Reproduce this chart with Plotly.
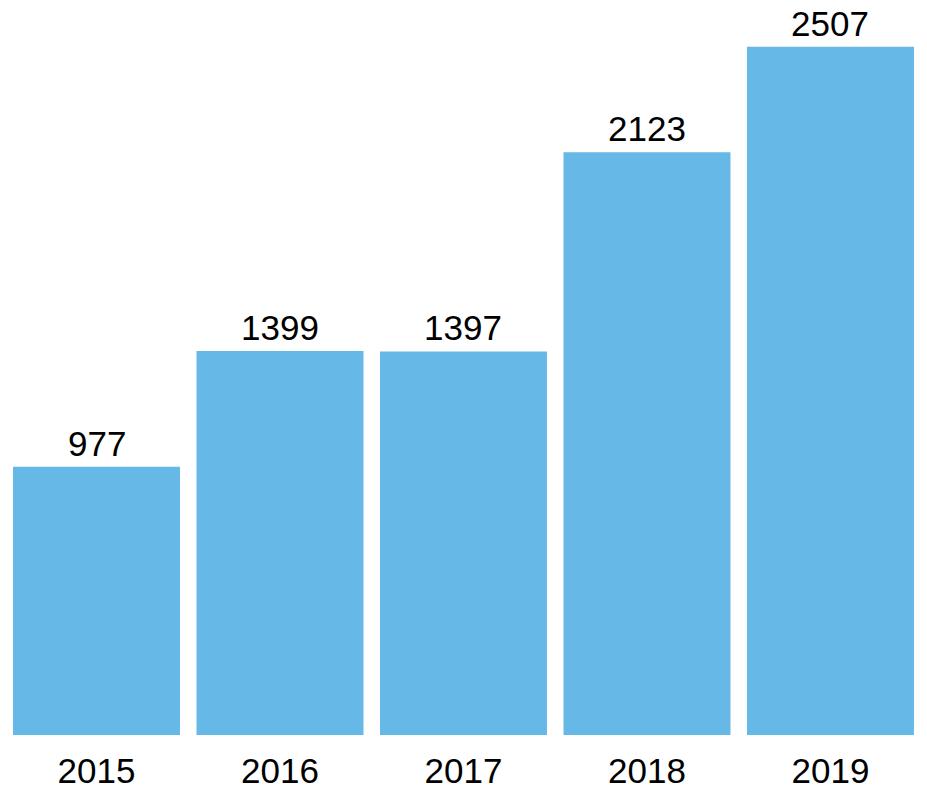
import plotly.graph_objects as go

years = ["2015", "2016", "2017", "2018", "2019"]
values = [977, 1399, 1397, 2123, 2507]

FONT = "Liberation Sans, Arial, Helvetica, sans-serif"

fig = go.Figure(go.Bar(
    x=years, y=values,
    marker=dict(color="#66b9e6", line=dict(width=0)),
    cliponaxis=False,
))
for i, v in enumerate(values):
    fig.add_annotation(x=i, y=v, xref="x", yref="y", text=str(v), showarrow=False,
                       yanchor="bottom", xanchor="center", yshift=2,
                       font=dict(size=35, color="black", family=FONT))
fig.update_layout(
    width=927, height=805,
    margin=dict(l=8, r=0, t=8, b=70, pad=0),
    plot_bgcolor="white", paper_bgcolor="white",
    bargap=0.09,
    showlegend=False,
    hovermode=False,
    font=dict(family=FONT, size=35, color="black"),
)
fig.update_yaxes(range=[0, 2648], visible=False, showgrid=False)
fig.update_xaxes(type="category", range=[-0.4823, 4.526], showgrid=False, showline=False, ticks="",
                 tickfont=dict(size=35, color="black"), ticklabelstandoff=12)
fig.write_html("out.html", config={"displayModeBar": False},
               post_script="document.body.style.margin='0';document.body.style.overflow='hidden';")
